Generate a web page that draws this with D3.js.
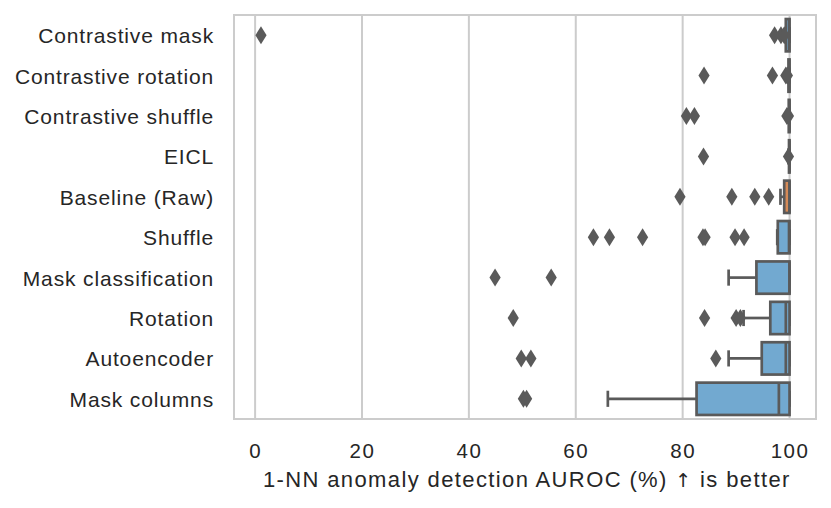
<!DOCTYPE html>
<html>
<head>
<meta charset="utf-8">
<script src="https://cdn.jsdelivr.net/npm/d3@7"></script>
<style>
  body { margin: 0; background: #fff; }
  text { font-family: Arial, "Liberation Sans", Helvetica, sans-serif; fill: #262626; }
</style>
</head>
<body>
<div class="chart"></div>
<script>
// data
var categories = ["Contrastive mask", "Contrastive rotation", "Contrastive shuffle", "EICL",
  "Baseline (Raw)", "Shuffle", "Mask classification", "Rotation", "Autoencoder", "Mask columns"];
var whiskerLow  = [99.3, 99.7, 99.8, 99.8, 98.3, 97.7, 88.6, 91.4, 88.6, 66.0];
var q1          = [99.3, 99.8, 99.85, 99.9, 99.0, 97.8, 93.8, 96.4, 94.8, 82.6];
var medians     = [99.9, 99.95, 100, 100, 100, 99.9, 100, 99.3, 99.3, 98.0];
var q3          = [100, 100, 100, 100, 100, 100, 100, 100, 100, 100];
var whiskerHigh = [100, 100, 100, 100, 100, 100, 100, 100, 100, 100];
var outliers = [
  [1.1, 97.2, 98.4, 99.0],
  [84.0, 96.8, 99.3, 99.6],
  [80.7, 82.2, 99.5, 99.8],
  [83.9, 99.8],
  [79.5, 89.2, 93.5, 96.1],
  [63.3, 66.3, 72.5, 83.8, 84.2, 89.8, 91.5],
  [44.9, 55.4],
  [48.3, 84.1, 90.0, 90.8],
  [49.8, 51.6, 86.2],
  [50.2, 50.8]
];
var xTicks = [0, 20, 40, 60, 80, 100];
var highlight = "Baseline (Raw)";

var svgWidth = 831;
var svgHeight = 508;
var margin = { top: 15, right: 15, bottom: 89, left: 234 };
var width = svgWidth - margin.left - margin.right;
var height = svgHeight - margin.top - margin.bottom;

var lineColor = "#5a5a5a";
var gridColor = "#cccccc";

var svg = d3.select(".chart")
  .append("svg")
  .attr("width", svgWidth)
  .attr("height", svgHeight);

var chartGroup = svg.append("g")
  .attr("transform", `translate(${margin.left}, ${margin.top})`);

var xScale = d3.scaleLinear()
  .domain([-3.95, 104.95])
  .range([0, width]);

var yScale = d3.scaleBand()
  .domain(categories)
  .range([0, height])
  .paddingInner(0.2)
  .paddingOuter(0.1);

var bw = yScale.bandwidth();

// grid lines
chartGroup.selectAll(".grid")
  .data(xTicks)
  .enter()
  .append("line")
  .attr("x1", d => xScale(d))
  .attr("x2", d => xScale(d))
  .attr("y1", 0)
  .attr("y2", height)
  .attr("stroke", gridColor)
  .attr("stroke-width", 2);

// frame
chartGroup.append("rect")
  .attr("width", width)
  .attr("height", height)
  .attr("fill", "none")
  .attr("stroke", gridColor)
  .attr("stroke-width", 2);

// axes
var bottomAxis = d3.axisBottom(xScale).tickValues(xTicks).tickSize(0).tickPadding(24);
var leftAxis = d3.axisLeft(yScale).tickSize(0).tickPadding(20);

var xAxisG = chartGroup.append("g")
  .attr("transform", `translate(0, ${height})`)
  .call(bottomAxis);
xAxisG.select(".domain").remove();
xAxisG.selectAll("text")
  .style("font-size", "20.5px")
  .style("letter-spacing", "1.5px")
  .attr("fill", "#262626");

var yAxisG = chartGroup.append("g").call(leftAxis);
yAxisG.select(".domain").remove();
yAxisG.selectAll("text")
  .style("font-size", "21px")
  .style("letter-spacing", "0.85px")
  .attr("dy", "0.38em")
  .attr("fill", "#262626");

// boxes
var rows = categories.map((c, i) => ({
  cat: c, lo: whiskerLow[i], q1: q1[i], med: medians[i], q3: q3[i], hi: whiskerHigh[i], out: outliers[i]
}));

var boxG = chartGroup.selectAll(".box")
  .data(rows)
  .enter()
  .append("g")
  .attr("transform", d => `translate(0, ${yScale(d.cat)})`);

// whiskers
boxG.append("line")
  .attr("x1", d => xScale(d.lo))
  .attr("x2", d => xScale(d.q1))
  .attr("y1", bw / 2).attr("y2", bw / 2)
  .attr("stroke", lineColor).attr("stroke-width", 2.7);
boxG.append("line")
  .attr("x1", d => xScale(d.q3))
  .attr("x2", d => xScale(d.hi))
  .attr("y1", bw / 2).attr("y2", bw / 2)
  .attr("stroke", lineColor).attr("stroke-width", 2.7);

// caps
boxG.append("line")
  .attr("x1", d => xScale(d.lo)).attr("x2", d => xScale(d.lo))
  .attr("y1", bw / 4).attr("y2", bw * 3 / 4)
  .attr("stroke", lineColor).attr("stroke-width", 2.7);
boxG.append("line")
  .attr("x1", d => xScale(d.hi)).attr("x2", d => xScale(d.hi))
  .attr("y1", bw / 4).attr("y2", bw * 3 / 4)
  .attr("stroke", lineColor).attr("stroke-width", 2.7);

boxG.append("rect")
  .attr("x", d => xScale(d.q1))
  .attr("width", d => xScale(d.q3) - xScale(d.q1))
  .attr("y", 0)
  .attr("height", bw)
  .attr("fill", d => d.cat == highlight ? "#d58a57" : "#72a9d0")
  .attr("stroke", lineColor)
  .attr("stroke-width", 2.7);

// median
boxG.append("line")
  .attr("x1", d => xScale(d.med)).attr("x2", d => xScale(d.med))
  .attr("y1", 0).attr("y2", bw)
  .attr("stroke", lineColor).attr("stroke-width", 2.7);

// outliers (diamonds)
boxG.selectAll(".flier")
  .data(d => d.out)
  .enter()
  .append("path")
  .attr("d", "M0,-9L5.6,0L0,9L-5.6,0Z")
  .attr("transform", d => `translate(${xScale(d)}, ${bw / 2})`)
  .attr("fill", lineColor);

// x axis label
var title = chartGroup.append("text")
  .attr("x", xScale(50) + 4.5)
  .attr("y", height + 68)
  .attr("text-anchor", "middle")
  .style("font-size", "22px")
  .style("letter-spacing", "1.38px");
title.append("tspan").text("1-NN anomaly detection AUROC (%) ");
title.append("tspan")
  .style("font-family", "'DejaVu Sans', sans-serif")
  .style("font-size", "19px")
  .attr("fill", "#262626")
  .text("\u2191");
title.append("tspan").text(" is better");
</script>
</body>
</html>
